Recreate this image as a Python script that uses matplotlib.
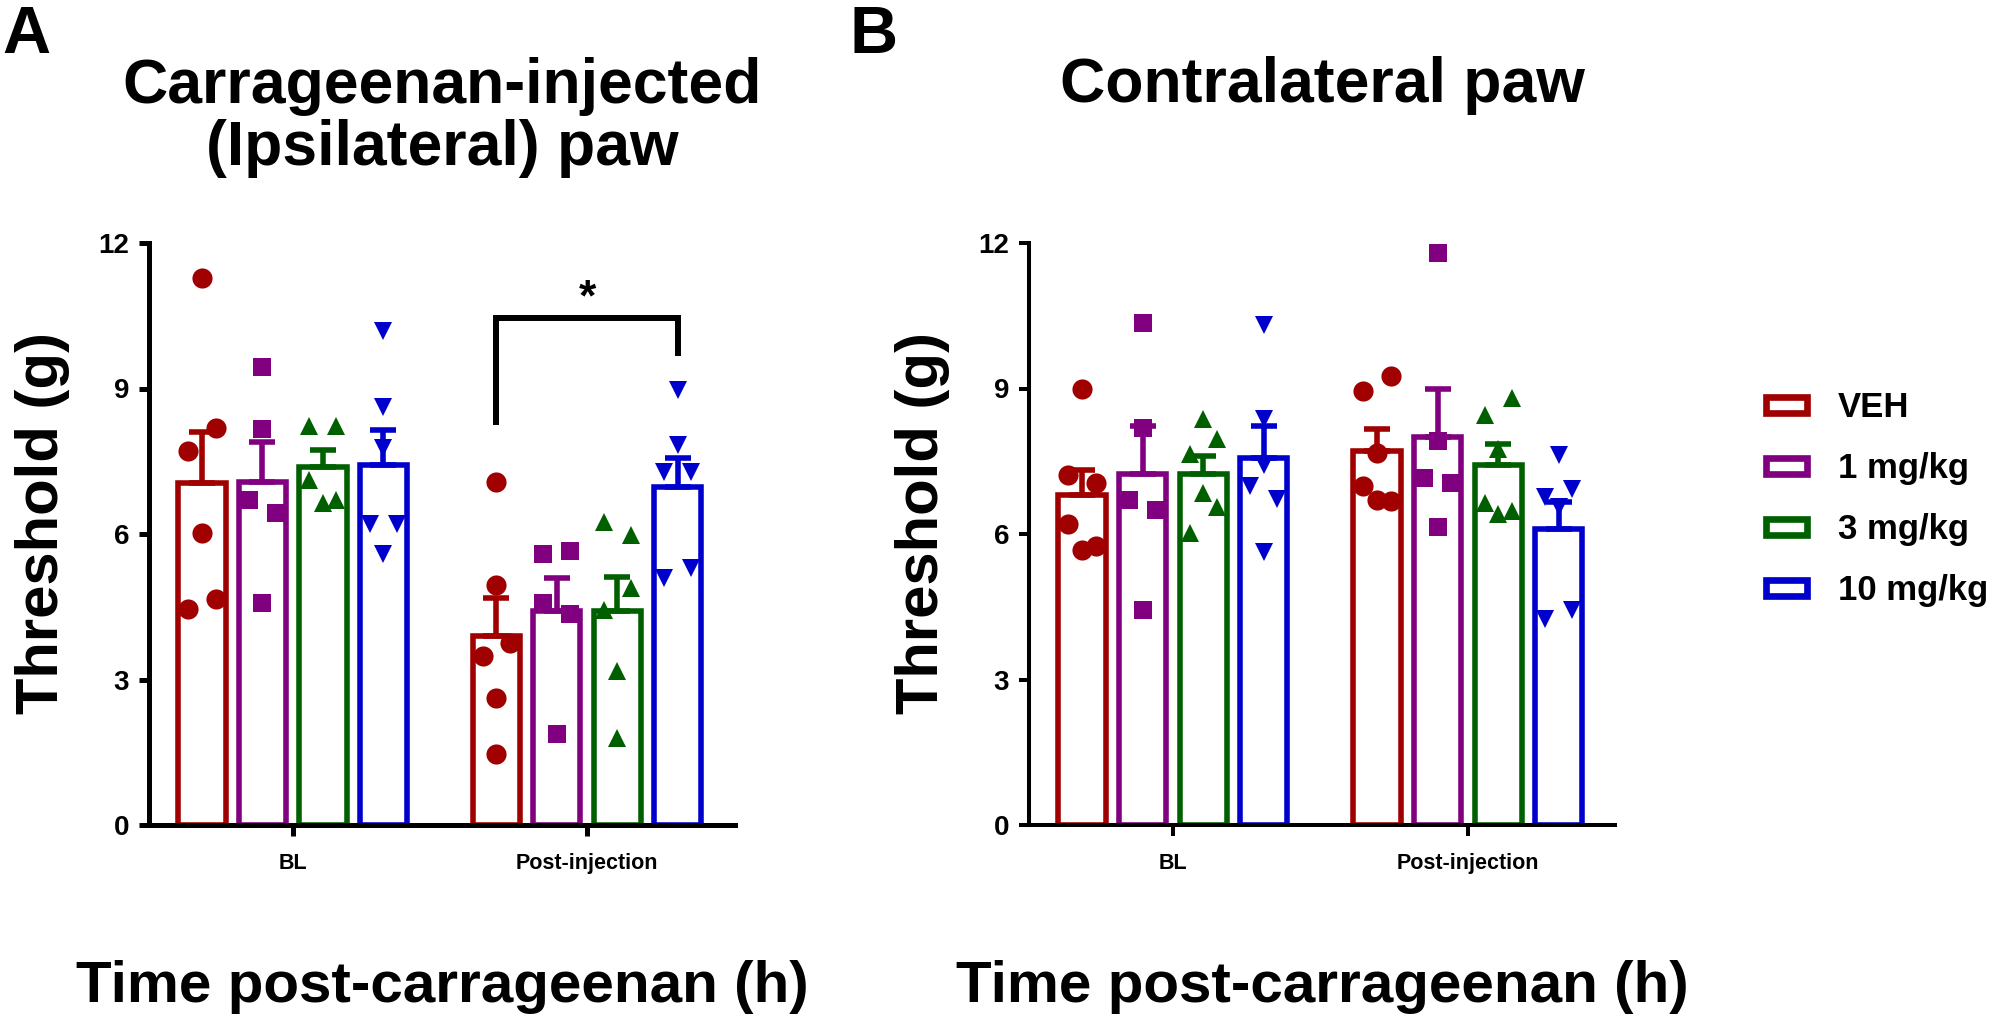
import numpy as np
import matplotlib
matplotlib.use("Agg")
import matplotlib.pyplot as plt
from matplotlib.patches import Rectangle

plt.rcParams['font.family'] = ['Liberation Sans', 'DejaVu Sans']
plt.rcParams['font.weight'] = 'bold'

# ---------------- data ----------------
groups = ['VEH', '1 mg/kg', '3 mg/kg', '10 mg/kg']
timepoints = ['BL', 'Post-injection']
colors = ['#A00000', '#800080', '#006000', '#0000CC']
markers = ['o', 's', '^', 'v']

# Ipsilateral (carrageenan-injected) paw, individual thresholds (g)
ipsi_bl = [[11.27, 8.19, 7.72, 6.03, 4.65, 4.46],
           [9.44, 8.17, 6.70, 6.44, 4.57],
           [8.22, 8.22, 7.12, 6.64, 6.70],
           [10.19, 8.62, 7.77, 6.20, 6.20, 5.58]]
ipsi_bl_slots = [[0, 1, -1, 0, 1, -1],
                 [0, 0, -1, 1, 0],
                 [-1, 1, -1, 0, 1],
                 [0, 0, 0, -1, 1, 0]]
ipsi_post = [[7.07, 4.95, 3.75, 3.48, 2.61, 1.47],
             [5.58, 5.65, 4.57, 4.36, 1.87],
             [6.24, 5.98, 4.89, 4.44, 3.18, 1.79],
             [8.97, 7.83, 7.28, 7.28, 5.10, 5.30]]
ipsi_post_slots = [[0, 0, 1, -1, 0, 0],
                   [-1, 1, -1, 1, 0],
                   [-1, 1, 1, -1, 0, 0],
                   [0, 0, -1, 1, -1, 1]]

# Contralateral paw
contra_bl = [[8.98, 7.21, 7.05, 6.21, 5.68, 5.75],
             [10.35, 8.19, 6.70, 6.50, 4.44],
             [8.37, 7.95, 7.64, 6.85, 6.56, 6.03],
             [10.30, 8.37, 7.42, 7.00, 6.72, 5.62]]
contra_bl_slots = [[0, -1, 1, -1, 0, 1],
                   [0, 0, -1, 1, 0],
                   [0, 1, -1, 0, 1, -1],
                   [0, 0, 0, -1, 1, 0]]
contra_post = [[9.25, 8.94, 7.66, 6.99, 6.68, 6.70],
               [11.80, 7.91, 7.15, 7.05, 6.14],
               [8.80, 8.45, 7.76, 6.64, 6.42, 6.48],
               [7.62, 6.93, 6.77, 6.56, 4.24, 4.44]]
contra_post_slots = [[1, -1, 0, -1, 1, 0],
                     [0, 0, -1, 1, 0],
                     [1, -1, 0, -1, 0, 1],
                     [0, 1, -1, 0, -1, 1]]

# significance bracket (panel A, Post-injection, VEH vs 10 mg/kg)
bracket_y = [8.31, 10.46, 9.74]   # left foot, top, right foot
bracket_label = '*'

yticks = [0, 3, 6, 9, 12]

# ---------------- layout ----------------
W, H = 1996, 1017
fig = plt.figure(figsize=(W / 100, H / 100), dpi=100)


def fx(px):
    return px / W


def fy(py):
    return 1 - py / H


ax_top, ax_bot = 243, 825
axA = fig.add_axes([fx(149), fy(ax_bot), fx(735 - 149), (ax_bot - ax_top) / H])
axB = fig.add_axes([fx(1029), fy(ax_bot), fx(1615 - 1029), (ax_bot - ax_top) / H])

OFFS = np.array([-1.5, -0.5, 0.5, 1.5]) * 0.2054
BAR_W = 0.160
SLOT = 0.046
BAR_LW = 4.0
MS = {'o': 14.5, 's': 13.5, '^': 13.5, 'v': 13.5}


def draw_panel(ax, data, slots, xlim, spine_lw):
    for t in range(len(timepoints)):
        for g in range(len(groups)):
            v = np.array(data[t][g])
            s = np.array(slots[t][g])
            x = t + OFFS[g]
            m = v.mean()
            sem = v.std(ddof=1) / np.sqrt(len(v))
            col = colors[g]
            ax.bar(x, m, width=BAR_W, facecolor='white', edgecolor=col,
                   linewidth=BAR_LW, zorder=2, joinstyle='miter')
            ax.errorbar(x, m, yerr=[[0], [sem]], fmt='none', ecolor=col,
                        elinewidth=BAR_LW, capsize=9.5, capthick=BAR_LW, zorder=2.5)
            ax.plot(x + s * SLOT, v, linestyle='none', marker=markers[g],
                    ms=MS[markers[g]], color=col, mec=col, mew=0, zorder=3,
                    clip_on=False)
    ax.set_xlim(*xlim)
    ax.set_ylim(0, 12)
    ax.set_yticks(yticks)
    ax.set_yticklabels([str(v) for v in yticks], fontsize=20, fontweight='bold')
    ax.set_xticks(range(len(timepoints)))
    ax.set_xticklabels(timepoints, fontsize=15.5, fontweight='bold')
    for sp in ['top', 'right']:
        ax.spines[sp].set_visible(False)
    for sp in ['left', 'bottom']:
        ax.spines[sp].set_linewidth(spine_lw)
        ax.spines[sp].set_zorder(4)
    ax.tick_params(axis='y', direction='out', length=7.2, width=spine_lw, pad=7)
    ax.tick_params(axis='x', direction='out', length=8, width=spine_lw, pad=12)
    ax.patch.set_visible(False)


draw_panel(axA, [ipsi_bl, ipsi_post], [ipsi_bl_slots, ipsi_post_slots],
           (-0.488, 1.502), 3.6)
draw_panel(axB, [contra_bl, contra_post], [contra_bl_slots, contra_post_slots],
           (-0.488, 1.499), 2.9)

# significance bracket
xl = 1 + OFFS[0]
xr = 1 + OFFS[3]
axA.plot([xl, xl, xr, xr], [bracket_y[0], bracket_y[1], bracket_y[1], bracket_y[2]],
         color='black', lw=4.3, solid_joinstyle='miter', zorder=3)
axA.annotate(bracket_label, xy=((xl + xr) / 2, bracket_y[1]), xytext=(0, 5),
             textcoords='offset points', ha='center', va='baseline',
             fontsize=32, fontweight='bold')

# titles, labels, panel letters
fig.text(fx(2), fy(53), 'A', fontsize=48, fontweight='bold', ha='left', va='baseline')
fig.text(fx(849), fy(53), 'B', fontsize=48, fontweight='bold', ha='left', va='baseline')

cA = (149 + 735) / 2
cB = (1029 + 1615) / 2
fig.text(fx(cA), fy(103), 'Carrageenan-injected', fontsize=45, fontweight='bold',
         ha='center', va='baseline')
fig.text(fx(cA), fy(165), '(Ipsilateral) paw', fontsize=45, fontweight='bold',
         ha='center', va='baseline')
fig.text(fx(cB), fy(102), 'Contralateral paw', fontsize=45, fontweight='bold',
         ha='center', va='baseline')

for xc in (42.5, 922.5):
    fig.text(fx(xc), fy(523.5), 'Threshold (g)', fontsize=43, fontweight='bold',
             rotation=90, ha='center', va='center')

for xc in (cA, cB):
    fig.text(fx(xc), fy(1002), 'Time post-carrageenan (h)', fontsize=42,
             fontweight='bold', ha='center', va='baseline')

# legend (drawn manually)
row_y = [405, 466, 527, 588]
for i, (lab, col) in enumerate(zip(groups, colors)):
    yc = row_y[i]
    fig.patches.append(Rectangle((fx(1766), fy(yc + 8.2)), fx(41.3), 16.4 / H,
                                 transform=fig.transFigure, facecolor='white',
                                 edgecolor=col, linewidth=4.8, joinstyle='miter'))
    fig.text(fx(1838), fy(yc + 12.4), lab, fontsize=25, fontweight='bold',
             ha='left', va='baseline')

fig.savefig('out.png', dpi=100, facecolor='white')
